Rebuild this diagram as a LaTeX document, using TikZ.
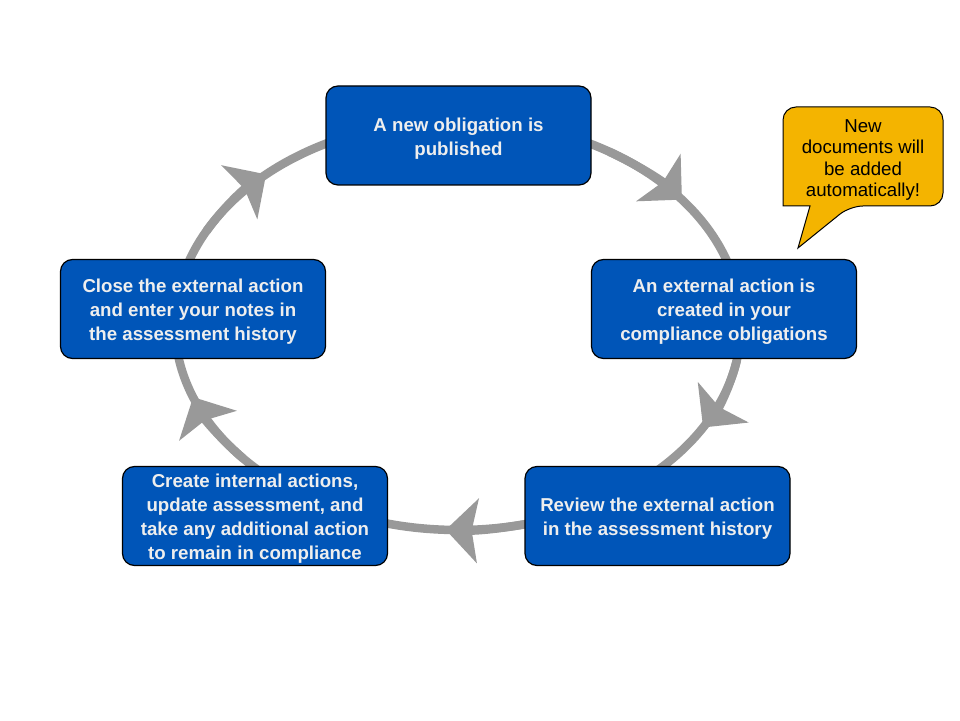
\documentclass[tikz,border=0pt]{standalone}
\usepackage{fontspec}
\setmainfont{Liberation Sans}
\usetikzlibrary{arrows.meta}

\definecolor{stepblue}{RGB}{0,85,184}
\definecolor{steptext}{RGB}{238,238,238}
\definecolor{ringgray}{RGB}{153,153,153}
\definecolor{noteyellow}{RGB}{244,180,0}

\begin{document}
\begin{tikzpicture}[
    x=1pt, y=1pt,
    box/.style={draw=black, line width=1.2pt, fill=stepblue, rounded corners=12pt, minimum width=265pt, minimum height=99pt},
    boxtext/.style={align=center, text=steptext, yshift=-3pt, font=\fontsize{18.67}{24}\selectfont\bfseries},
    ring/.style={draw=ringgray, line width=8.5pt},
    ringtip/.style={-{Stealth[length=32pt, width=64pt, inset=6pt]}},
    bubble/.style={draw=black, line width=1pt, fill=noteyellow},
    note/.style={align=center, text=black, font=\fontsize{18.67}{21.5}\selectfont}
]
    \useasboundingbox[fill=white] (0,0) rectangle (960,720);

    % Cycle ring
    \coordinate (hub) at (458,395);
    \draw[ring] (hub) ellipse [x radius=283pt, y radius=205pt];
    \foreach \t in {37.7,-30,-92.5,200.6,132.7}
        \draw[ring, ringtip] ([shift={(\t+20:283pt and 205pt)}]hub) arc [start angle=\t+20, end angle=\t, x radius=283pt, y radius=205pt];

    % Steps
    \node[box, label={[boxtext]center:{A new obligation is\\published}}] (publish) at (458.5,584.5) {};
    \node[box, label={[boxtext]center:{An external action is\\created in your\\compliance obligations}}] (created) at (724,411) {};
    \node[box, label={[boxtext]center:{Review the external action\\in the assessment history}}] (review) at (657.5,204) {};
    \node[box, label={[boxtext]center:{Create internal actions,\\update assessment, and\\take any additional action\\to remain in compliance}}] (internal) at (255,204) {};
    \node[box, label={[boxtext]center:{Close the external action\\and enter your notes in\\the assessment history}}] (close) at (193,411) {};

    % Callout
    \coordinate (notetip) at (798,472);
    \draw[bubble] (notetip) -- (810,514) -- (783,514) [rounded corners=13pt] -- (783,613) -- (943,613) -- (943,514) -- (850,514) [sharp corners] -- cycle;
    \node[note] (newdocs) at (863,560) {New\\documents will\\be added\\automatically!};
\end{tikzpicture}
\end{document}
